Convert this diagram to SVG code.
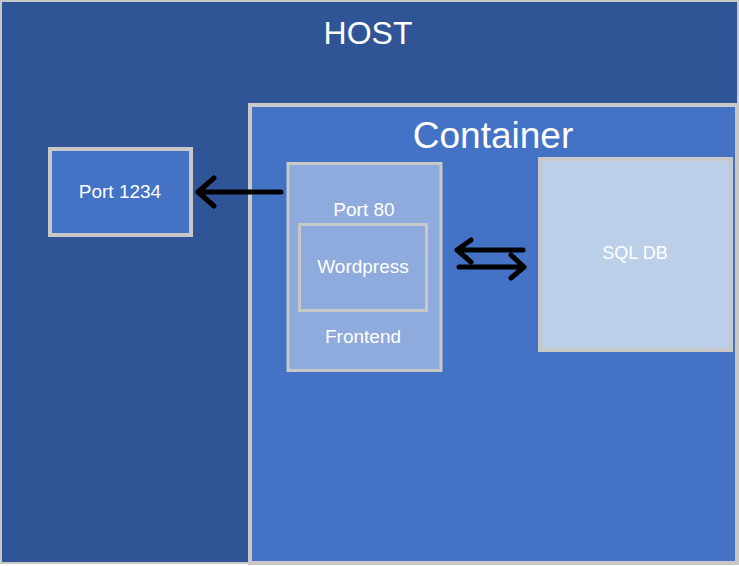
<svg xmlns="http://www.w3.org/2000/svg" width="739" height="566" viewBox="0 0 739 566">
<style>
.box{stroke:#C8C8C8;}
.t{font-family:"Liberation Sans",Arial,sans-serif;fill:#FFFFFF;text-anchor:middle;}
.s{font-size:19px;}
.arr{fill:none;stroke:#000000;stroke-width:5;stroke-linecap:round;stroke-linejoin:round;}
</style>
<rect width="739" height="566" fill="#FFFFFF"/>
<g id="host">
<rect class="box" x="1" y="1" width="737" height="562" fill="#2F5597" stroke-width="2"/>
<text class="t" x="368" y="44" font-size="32">HOST</text>
</g>
<g id="container">
<rect class="box" x="250" y="105" width="487" height="458" fill="#4472C4" stroke-width="4"/>
<text class="t" x="493" y="148" font-size="37">Container</text>
</g>
<g id="port1234">
<rect class="box" x="50" y="149" width="141" height="86" fill="#4472C4" stroke-width="4"/>
<text class="t s" x="120" y="198">Port 1234</text>
</g>
<g id="frontend">
<rect class="box" x="288" y="163.5" width="153" height="207" fill="#8FAADC" stroke-width="3"/>
<text class="t s" x="364" y="216">Port 80</text>
<text class="t s" x="363" y="343">Frontend</text>
</g>
<g id="wordpress">
<rect class="box" x="299.5" y="224.5" width="127" height="86" fill="#8FAADC" stroke-width="3"/>
<text class="t s" x="363" y="273">Wordpress</text>
</g>
<g id="sqldb">
<rect class="box" x="540" y="159" width="191" height="191" fill="#BBCFE8" stroke-width="4"/>
<text class="t" x="635" y="259" font-size="18">SQL DB</text>
</g>
<g id="connectors">
<path class="arr" d="M281 192 H198 M214 178 L198 192 L214 206"/>
<path class="arr" d="M523 250 H457 M471 240 L457 250 L471 262"/>
<path class="arr" d="M459 267 H524 M511 255 L524 267 L511 278"/>
</g>
</svg>
